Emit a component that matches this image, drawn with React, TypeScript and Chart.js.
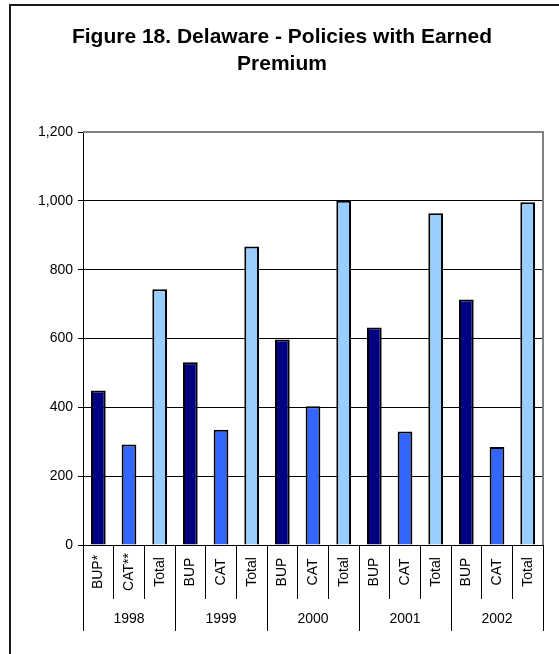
import React, { useEffect, useRef } from 'react';
import { Chart, registerables } from 'chart.js';

Chart.register(...registerables);

// ---- data ----
const years = ['1998', '1999', '2000', '2001', '2002'];
const subLabelsFirstYear = ['BUP*', 'CAT**', 'Total'];
const subLabels = ['BUP', 'CAT', 'Total'];
const bupValues = [449, 531, 597, 632, 713];
const catValues = [292, 335, 403, 330, 285];
const totalValues = [743, 867, 1000, 964, 996];
const seriesColors = ['#000080', '#3366FF', '#99CCFF'];
const yMin = 0;
const yMax = 1200;
const yStep = 200;
const titleLines = ['Figure 18. Delaware - Policies with Earned', 'Premium'];

const FONT = '"Liberation Sans", Arial, sans-serif';

const categoryLabels: string[] = [];
const barValues: number[] = [];
const barColors: string[] = [];
years.forEach((_, i) => {
  const labs = i === 0 ? subLabelsFirstYear : subLabels;
  const vals = [bupValues[i], catValues[i], totalValues[i]];
  labs.forEach((l, j) => {
    categoryLabels.push(l);
    barValues.push(vals[j]);
    barColors.push(seriesColors[j]);
  });
});

const decorPlugin = {
  id: 'decor',
  afterDraw(chart: any) {
    const ctx = chart.ctx as CanvasRenderingContext2D;
    const { left, right, top, bottom } = chart.chartArea;
    ctx.save();
    // plot frame (top & right)
    ctx.strokeStyle = '#808080';
    ctx.lineWidth = 2;
    ctx.beginPath();
    ctx.moveTo(left, top);
    ctx.lineTo(right, top);
    ctx.lineTo(right, bottom);
    ctx.stroke();

    // title
    ctx.fillStyle = '#000';
    ctx.font = `bold 21px ${FONT}`;
    ctx.textAlign = 'center';
    ctx.textBaseline = 'middle';
    titleLines.forEach((t, i) => ctx.fillText(t, 282, 37 + i * 27));

    // rotated category labels
    const xs = chart.scales.x;
    ctx.font = `14px ${FONT}`;
    const cy = (xs.top + xs.bottom) / 2;
    categoryLabels.forEach((lab, i) => {
      const x = xs.getPixelForValue(i);
      ctx.save();
      ctx.translate(x, cy);
      ctx.rotate(-Math.PI / 2);
      ctx.fillText(lab, 0, 0);
      ctx.restore();
    });
    ctx.restore();
  },
};

export default function App() {
  const canvasRef = useRef<HTMLCanvasElement>(null);

  useEffect(() => {
    const canvas = canvasRef.current;
    if (!canvas) return;
    const chart = new Chart(canvas, {
      type: 'bar',
      data: {
        labels: categoryLabels,
        datasets: [
          {
            data: barValues,
            backgroundColor: barColors,
            borderColor: '#000',
            borderWidth: 2,
            barPercentage: 0.48,
            categoryPercentage: 1,
          },
        ],
      },
      options: {
        responsive: false,
        animation: false,
        devicePixelRatio: 1,
        layout: { padding: { left: 20, right: 16, top: 132, bottom: 23 } },
        plugins: {
          legend: { display: false },
          tooltip: { enabled: false },
          title: { display: false },
        },
        scales: {
          x: {
            type: 'category',
            offset: true,
            weight: 0,
            grid: {
              offset: true,
              drawOnChartArea: false,
              drawTicks: true,
              tickLength: 54,
              color: '#000',
              lineWidth: 1,
            },
            border: { display: true, color: '#000', width: 1 },
            ticks: { display: false, autoSkip: false },
            afterFit: (s: any) => {
              s.height = 54;
            },
          },
          x2: {
            type: 'category',
            axis: 'x',
            labels: years,
            position: 'bottom',
            offset: true,
            weight: 1,
            grid: {
              offset: true,
              drawOnChartArea: false,
              drawTicks: true,
              tickLength: 32,
              color: '#000',
              lineWidth: 1,
            },
            border: { display: false },
            ticks: {
              color: '#000',
              font: { family: FONT, size: 14 },
              padding: -20,
              maxRotation: 0,
              minRotation: 0,
              autoSkip: false,
            },
            afterFit: (s: any) => {
              s.height = 32;
            },
          },
          y: {
            min: yMin,
            max: yMax,
            ticks: {
              stepSize: yStep,
              color: '#000',
              font: { family: FONT, size: 14 },
              padding: 5,
              callback: (v: any) => Number(v).toLocaleString('en-US'),
            },
            grid: {
              color: (c: any) => (c.tick && c.tick.value === yMax ? 'rgba(0,0,0,0)' : '#000'),
              lineWidth: 1,
              tickLength: 5,
              tickColor: '#000',
            },
            border: { color: '#000', width: 1 },
            afterFit: (s: any) => {
              s.width = 63;
            },
          },
        },
      } as any,
      plugins: [decorPlugin],
    });
    return () => chart.destroy();
  }, []);

  return (
    <div
      style={{
        position: 'absolute',
        left: 0,
        top: 0,
        width: 559,
        height: 654,
        overflow: 'hidden',
        background: '#fff',
      }}
    >
      <canvas ref={canvasRef} width={559} height={654} style={{ display: 'block', width: 559, height: 654 }} />
      <div
        style={{
          position: 'absolute',
          left: 9,
          top: 4,
          width: 700,
          height: 800,
          borderLeft: '2px solid #1a1a1a',
          borderTop: '2px solid #1a1a1a',
          pointerEvents: 'none',
        }}
      />
    </div>
  );
}
